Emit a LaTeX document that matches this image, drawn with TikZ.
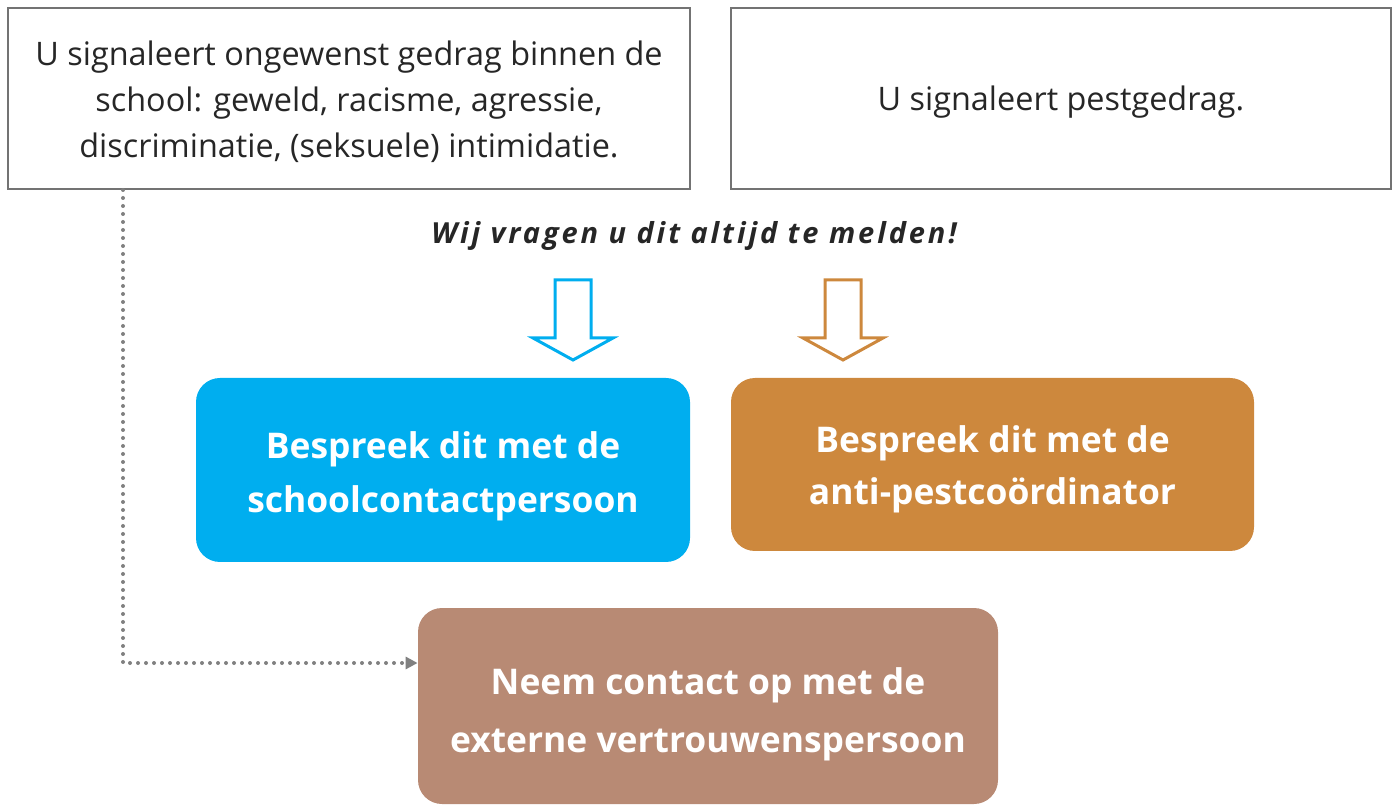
\documentclass[tikz,border=0pt]{standalone}
\usepackage{fontspec}
\setmainfont{Open Sans}
\usepackage{tikz}
\usetikzlibrary{arrows.meta}

\definecolor{signalblue}{HTML}{00AEEF}
\definecolor{signalorange}{HTML}{CD883D}
\definecolor{signalbrown}{HTML}{B88A74}

\begin{document}
\begin{tikzpicture}[x=0.5pt,y=-0.5pt]
  \useasboundingbox (0,0) rectangle (1397,806);

  \node[draw=black!55,line width=1pt,minimum width=341pt,minimum height=90.5pt] (ongewenst) at (349,98.5) {};
  \node[align=center,font=\fontsize{16.2}{23}\selectfont,color=black!85] at (349,102) {U signaleert ongewenst gedrag binnen de\\school: geweld, racisme, agressie,\\discriminatie, (seksuele) intimidatie.};
  \node[draw=black!55,line width=1pt,minimum width=330pt,minimum height=90.5pt] (pesten) at (1061,98.5) {};
  \node[font=\fontsize{16.2}{23}\selectfont,color=black!85] at (1061,102) {U signaleert pestgedrag.};

  \node[font=\fontsize{14.5}{16}\selectfont\bfseries\itshape\addfontfeature{LetterSpace=10},color=black!85] (melden) at (694,236) {Wij vragen u dit altijd te melden!};

  \draw[signalblue,line width=1.5pt,fill=white] (555,280) -- (591,280) -- (591,338) -- (613,338) -- (573,360) -- (533,338) -- (555,338) -- cycle;
  \draw[signalorange,line width=1.5pt,fill=white] (825,280) -- (861,280) -- (861,338) -- (883,338) -- (843,360) -- (803,338) -- (825,338) -- cycle;

  \node[fill=signalblue,rounded corners=12pt,minimum width=247pt,minimum height=92pt] (contact) at (443,470) {};
  \node[align=center,font=\fontsize{17.7}{27}\selectfont\bfseries,color=white] at (443,476) {Bespreek dit met de\\schoolcontactpersoon};
  \node[fill=signalorange,rounded corners=12pt,minimum width=261.5pt,minimum height=86.5pt] (coordinator) at (992.5,464.5) {};
  \node[align=center,font=\fontsize{17.7}{26}\selectfont\bfseries,color=white] at (992.5,469) {Bespreek dit met de\\anti-pestcoördinator};
  \node[fill=signalbrown,rounded corners=12pt,minimum width=290pt,minimum height=98pt] (extern) at (708,706) {};
  \node[align=center,font=\fontsize{17.7}{29}\selectfont\bfseries,color=white] at (708,714) {Neem contact op met de\\externe vertrouwenspersoon};

  \coordinate (hoek) at (123,663);
  \draw[black!50,line width=2pt,line cap=round,dash pattern=on 0pt off 4pt,-{Triangle[length=6pt,width=6pt]}] (ongewenst.south west -| hoek) -- (hoek) -- (hoek -| extern.west);
\end{tikzpicture}
\end{document}
